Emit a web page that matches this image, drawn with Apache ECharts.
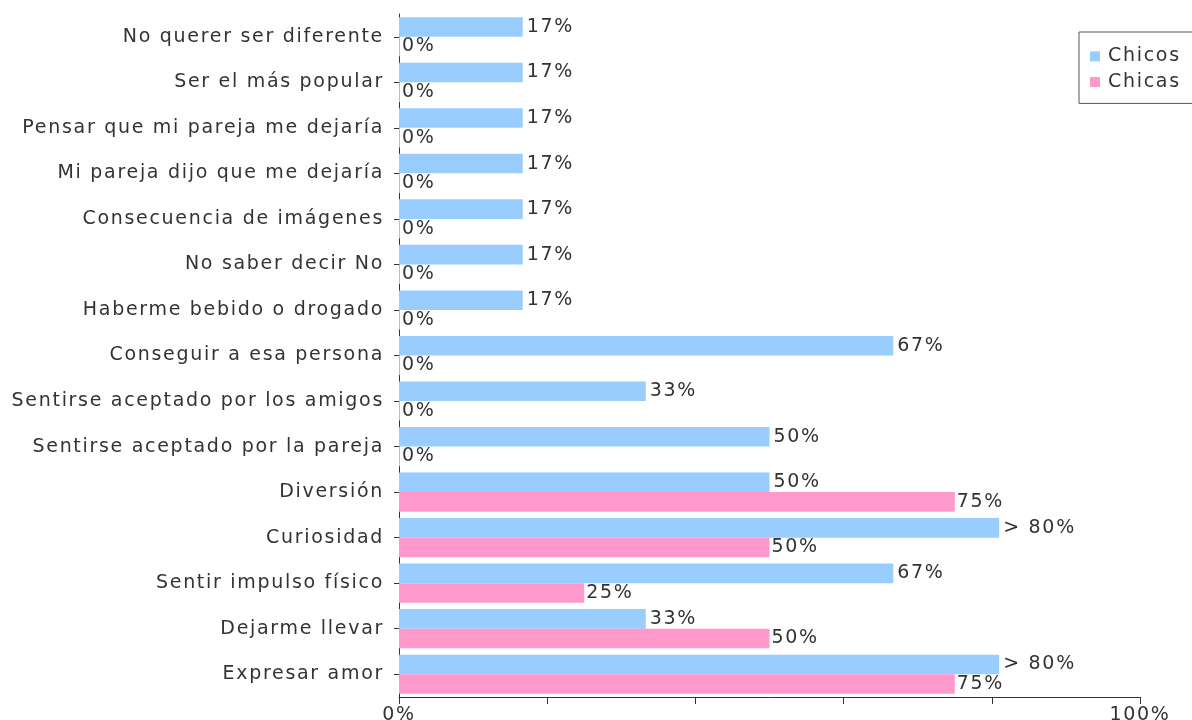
<!DOCTYPE html>
<html>
	<head>
		<meta charset="utf-8">
		<title></title>
		<script src="https://cdn.jsdelivr.net/npm/echarts@6/dist/echarts.min.js"></script>
	</head>
	<body style="margin:0;">
		<div id="main" style="width: 1192px;height:720px;"></div>
		<script>
			var categories = ['No querer ser diferente', 'Ser el más popular', 'Pensar que mi pareja me dejaría',
				'Mi pareja dijo que me dejaría', 'Consecuencia de imágenes', 'No saber decir No',
				'Haberme bebido o drogado', 'Conseguir a esa persona', 'Sentirse aceptado por los amigos',
				'Sentirse aceptado por la pareja', 'Diversión', 'Curiosidad', 'Sentir impulso físico',
				'Dejarme llevar', 'Expresar amor'];
			// valores > 80 se muestran como "> 80%"
			var chicos = [16.7, 16.7, 16.7, 16.7, 16.7, 16.7, 16.7, 66.7, 33.3, 50, 50, 81, 66.7, 33.3, 81];
			var chicas = [0, 0, 0, 0, 0, 0, 0, 0, 0, 0, 75, 50, 25, 50, 75];
			var xTicks = [0, 100];

			// el original tiene el texto algo espaciado
			var fontDesc = Object.getOwnPropertyDescriptor(CanvasRenderingContext2D.prototype, 'font');
			Object.defineProperty(CanvasRenderingContext2D.prototype, 'font', {
				configurable: true,
				get: fontDesc.get,
				set: function(v) {
					fontDesc.set.call(this, v);
					this.letterSpacing = '1.7px';
				}
			});

			var font = 'DejaVu Sans';
			var myChart = echarts.init(document.getElementById('main'));

			function pct(p) {
				return p.value > 80 ? '> 80%' : Math.round(p.value) + '%';
			}

			var option = {
				backgroundColor: '#fff',
				textStyle: { fontFamily: font },
				grid: {
					left: 399,
					right: 52,
					top: 14,
					bottom: 23,
					outerBoundsMode: 'none'
				},
				legend: {
					orient: 'vertical',
					left: 1079,
					top: 32,
					padding: [14, 40, 11, 11],
					itemGap: 5,
					itemWidth: 10,
					itemHeight: 10,
					icon: 'rect',
					borderColor: '#555',
					borderWidth: 1,
					textStyle: { fontSize: 19, color: '#333', fontFamily: font, padding: [0, 0, 0, 3] },
					data: ['Chicos', 'Chicas']
				},
				xAxis: {
					type: 'value',
					min: 0,
					max: 100,
					interval: 20,
					axisLine: { show: true, lineStyle: { color: '#333' } },
					axisTick: { show: true, length: 7, lineStyle: { color: '#333' } },
					splitLine: { show: false },
					axisLabel: {
						fontSize: 19,
						color: '#333',
						margin: 8,
						fontFamily: font,
						formatter: function(v) {
							return xTicks.indexOf(v) >= 0 ? v + '%' : '';
						}
					}
				},
				yAxis: {
					type: 'category',
					inverse: true,
					data: categories,
					axisLine: { show: true, lineStyle: { color: '#333' } },
					axisTick: { show: true, alignWithLabel: true, length: 5, lineStyle: { color: '#333' } },
					axisLabel: { fontSize: 19, color: '#333', margin: 15, fontFamily: font, padding: [0, 0, 3, 0] }
				},
				series: [{
						name: 'Chicos',
						type: 'bar',
						barGap: '0%',
						barCategoryGap: '14%',
						itemStyle: { color: '#99ccff' },
						label: {
							show: true,
							position: 'right',
							distance: 4,
							fontSize: 19,
							color: '#333',
							fontFamily: font,
							formatter: pct
						},
						data: chicos
					},
					{
						name: 'Chicas',
						type: 'bar',
						barMinHeight: 1,
						itemStyle: { color: '#ff99cc' },
						label: {
							show: true,
							position: 'right',
							distance: 2,
							fontSize: 19,
							color: '#333',
							fontFamily: font,
							formatter: pct
						},
						data: chicas
					}
				]
			};

			myChart.setOption(option);
		</script>
	</body>
</html>
